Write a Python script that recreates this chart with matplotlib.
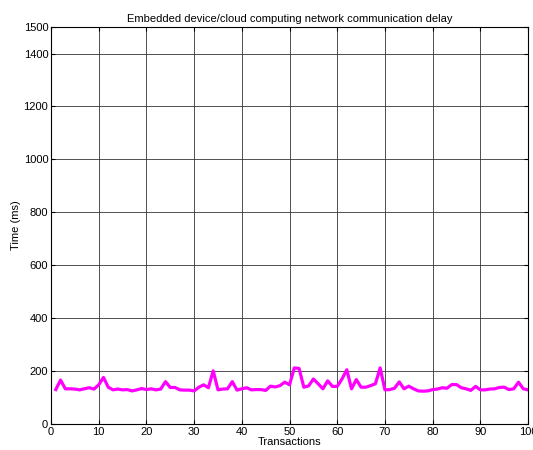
import matplotlib
matplotlib.use("Agg")
import matplotlib.pyplot as plt
import numpy as np

plt.rcParams['font.family'] = ['Liberation Sans', 'DejaVu Sans']

# delay per transaction (ms)
transactions = np.arange(1, 101)
delay = [130, 166, 133, 133, 132, 129, 133, 137, 132, 148,
         176, 139, 129, 132, 129, 130, 125, 129, 134, 130,
         133, 129, 132, 160, 138, 138, 129, 128, 128, 125,
         139, 148, 137, 201, 129, 132, 133, 160, 128, 133,
         137, 129, 130, 130, 127, 143, 140, 145, 158, 148,
         212, 210, 139, 144, 170, 152, 133, 163, 142, 142,
         170, 205, 133, 168, 139, 139, 145, 152, 212, 129,
         130, 135, 159, 133, 143, 133, 125, 124, 125, 130,
         132, 137, 135, 149, 149, 137, 133, 127, 142, 129,
         129, 132, 133, 138, 139, 130, 133, 158, 133, 129]

yticks = [0, 200, 400, 600, 800, 1000, 1200, 1400, 1500]
xticks = np.arange(0, 101, 10)

fig = plt.figure(figsize=(5.33, 4.5), dpi=100)
ax = fig.add_axes([0.0957, 0.0578, 0.895, 0.882])

ax.plot(transactions, delay, color='#ff00ff', linewidth=2.3)

ax.set_xlim(0, 100)
ax.set_ylim(0, 1500)
ax.set_xticks(xticks)
ax.set_yticks(yticks)
ax.grid(True, color='#333333', linewidth=0.6, linestyle='-')
ax.tick_params(direction='in', length=3, labelsize=8, top=True, right=True, pad=2)
for s in ax.spines.values():
    s.set_linewidth(0.8)

ax.set_title('Embedded device/cloud computing network communication delay', fontsize=8, pad=4)
ax.set_xlabel('Transactions', fontsize=8, labelpad=0)
ax.set_ylabel('Time (ms)', fontsize=8, labelpad=2)

fig.savefig('out.png', dpi=100)
